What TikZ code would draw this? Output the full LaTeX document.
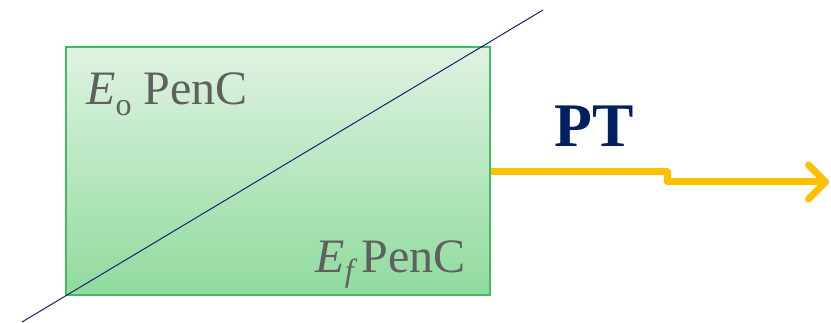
\documentclass[tikz,border=0pt]{standalone}
\usepackage{fontspec}
\setmainfont{Liberation Serif}
\usetikzlibrary{arrows.meta}
\definecolor{boxtop}{RGB}{224,243,226}
\definecolor{boxbot}{RGB}{143,219,157}
\definecolor{boxedge}{RGB}{70,185,100}
\definecolor{navyline}{RGB}{30,30,120}
\definecolor{ptcol}{RGB}{0,32,96}
\definecolor{txtgray}{RGB}{96,96,96}
\definecolor{arrowyellow}{RGB}{255,192,0}
\tikzset{
  box/.style={draw=boxedge, line width=1.2pt, top color=boxtop, bottom color=boxbot,
    minimum width=424pt, minimum height=248pt, inner sep=0pt},
  lbl/.style={text=txtgray, font=\fontsize{48}{52}\selectfont, inner sep=0pt},
  pt/.style={text=ptcol, font=\fontsize{62}{66}\selectfont\bfseries, inner sep=0pt},
  flow/.style={draw=arrowyellow, line width=7pt, line join=round,
    -{Straight Barb[length=17pt,width=34pt,line cap=round,line join=round]}},
  diag/.style={draw=navyline, line width=1pt}
}
\begin{document}
\begin{tikzpicture}[x=1pt,y=-1pt]
\useasboundingbox (0,0) rectangle (831,323);
\node[box] (b) at (278,171) {};
\coordinate (d1) at (22,322);
\coordinate (d2) at (543,10);
\draw[diag] (d1) -- (d2);
\node[lbl, anchor=base west] (eo) at (86,105) {\textit{E}\raisebox{-11pt}{\fontsize{32}{34}\selectfont o}\ PenC};
\node[lbl, anchor=base east] (ef) at (466,273) {\textit{E}\raisebox{-9pt}{\fontsize{32}{34}\selectfont\itshape f}\,PenC};
\node[pt] (ptl) at (594,126) {PT};
\coordinate (s1) at (667,172);
\coordinate (s2) at (667,182);
\coordinate (end) at (829,182);
\draw[flow] (b.east |- s1) -- (s1) -- (s2) -- (end);
\end{tikzpicture}
\end{document}
